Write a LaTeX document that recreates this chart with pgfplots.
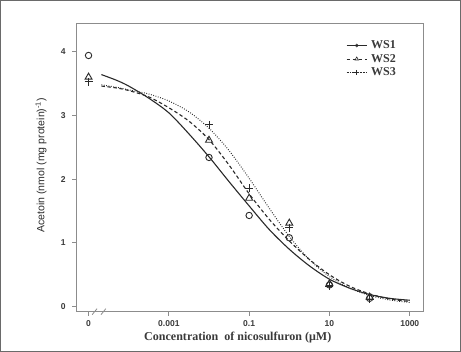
\documentclass[border=0pt]{standalone}
\usepackage{fontspec}
\setmainfont{Liberation Sans}
\newfontfamily\serifb{Liberation Serif}
\usepackage{pgfplots}
\pgfplotsset{compat=1.18}
\definecolor{axgray}{HTML}{8C8C8C}
\definecolor{txt}{HTML}{3A3A3A}
\definecolor{ln}{HTML}{2A2A2A}
\definecolor{frame}{HTML}{6A6A6A}
\begin{document}
\begin{tikzpicture}
\begin{axis}[
  at={(0,0)}, anchor=south west,
  scale only axis, width=346pt, height=288pt,
  xmin=-5.31, xmax=3.33, ymin=-0.08, ymax=4.45,
  clip=false,
  axis line style={axgray, line width=0.8pt},
  tick align=outside, xtick pos=left, ytick pos=left,
  major tick length=4pt,
  tick style={axgray, line width=0.8pt},
  xtick={-5,-3,-1,1,3}, xticklabels={0,0.001,0.1,10,1000},
  ytick={0,1,2,3,4},
  /pgf/number format/assume math mode=true,
  ticklabel style={font=\fontsize{8.5}{10}\selectfont\bfseries, text=txt},
  xticklabel style={yshift=-1.5pt},
  yticklabel style={xshift=-3pt},
  xlabel={\serifb\bfseries Concentration\ \ of nicosulfuron (μM)},
  ylabel={Acetoin (nmol (mg protein)\textsuperscript{-1})},
  every axis x label/.style={at={(axis description cs:0.466,-0.090)}, anchor=center, font=\fontsize{12}{14}\selectfont, text=txt},
  every axis y label/.style={at={(axis description cs:-0.101,0.507)}, rotate=90, anchor=center, font=\fontsize{10.5}{12}\selectfont, text=ln},
  legend style={at={(axis description cs:0.77,0.953)}, anchor=north west, draw=none, fill=none,
    font=\serifb\bfseries\fontsize{12}{13.5}\selectfont, text=txt, row sep=0pt,
    nodes={inner xsep=4pt}},
  legend cell align=left,
  legend image code/.code={\draw[mark repeat=2,mark phase=2] plot coordinates {(0pt,0pt) (10pt,0pt) (20pt,0pt)};},
]
% legend entries
\addlegendimage{ln, solid, line width=0.6pt, mark=o, mark size=1.5pt}
\addlegendentry{WS1}
\addlegendimage{ln, dashed, line width=0.6pt, mark=triangle, mark size=2pt, mark options={solid}}
\addlegendentry{WS2}
\addlegendimage{ln, densely dotted, line width=0.6pt, mark=+, mark size=2.5pt, mark options={solid}}
\addlegendentry{WS3}

% fitted curves (x = log10 concentration)
\addplot[ln, line width=1.1pt, smooth, forget plot] coordinates {
(-4.68,3.64) (-4.3,3.55) (-4,3.46) (-3.5,3.27) (-3,3.04) (-2.5,2.71) (-2,2.35)
(-1.5,1.96) (-1,1.58) (-0.5,1.21) (0,0.90) (0.5,0.64) (1,0.43) (1.5,0.29)
(2,0.19) (2.5,0.13) (3,0.10)};
\addplot[ln, line width=1.1pt, dash pattern=on 3.5pt off 2.5pt, smooth, forget plot] coordinates {
(-4.68,3.46) (-4.3,3.43) (-4,3.39) (-3.5,3.29) (-3,3.12) (-2.5,2.91) (-2,2.62)
(-1.5,2.22) (-1,1.77) (-0.5,1.37) (0,1.03) (0.5,0.74) (1,0.50) (1.5,0.32)
(2,0.20) (2.5,0.12) (3,0.08)};
\addplot[ln, line width=1.0pt, dash pattern=on 0.8pt off 1.6pt, smooth, forget plot] coordinates {
(-4.68,3.48) (-4.3,3.44) (-4,3.40) (-3.5,3.335) (-3,3.226) (-2.5,3.055) (-2,2.799)
(-1.5,2.448) (-1,2.013) (-0.5,1.543) (0,1.101) (0.5,0.738) (1,0.471) (1.5,0.291)
(2,0.175) (2.5,0.104) (3,0.065)};

% observed data
\addplot[only marks, mark=o, mark size=3.2pt, ln, line width=0.9pt, forget plot] coordinates {
(-5,3.94) (-2,2.34) (-1,1.43) (0,1.08) (1,0.34) (2,0.13)};
\addplot[only marks, mark=triangle, mark size=4pt, ln, line width=0.9pt, forget plot] coordinates {
(-5,3.60) (-2,2.61) (-1,1.70) (0,1.31) (1,0.36) (2,0.15)};
\addplot[only marks, mark=+, mark size=4pt, ln, line width=0.9pt, forget plot] coordinates {
(-5,3.53) (-2,2.85) (-1,1.86) (0,1.24) (1,0.32) (2,0.12)};

% axis break marks
\draw[axgray, line width=0.8pt] (axis cs:-4.91,-0.127) -- (axis cs:-4.79,-0.033);
\draw[axgray, line width=0.8pt] (axis cs:-4.69,-0.127) -- (axis cs:-4.57,-0.033);
\end{axis}
\draw[frame, line width=0.8pt] (-75.5pt,-39.5pt) rectangle (383.5pt,310.5pt);
\end{tikzpicture}
\end{document}
